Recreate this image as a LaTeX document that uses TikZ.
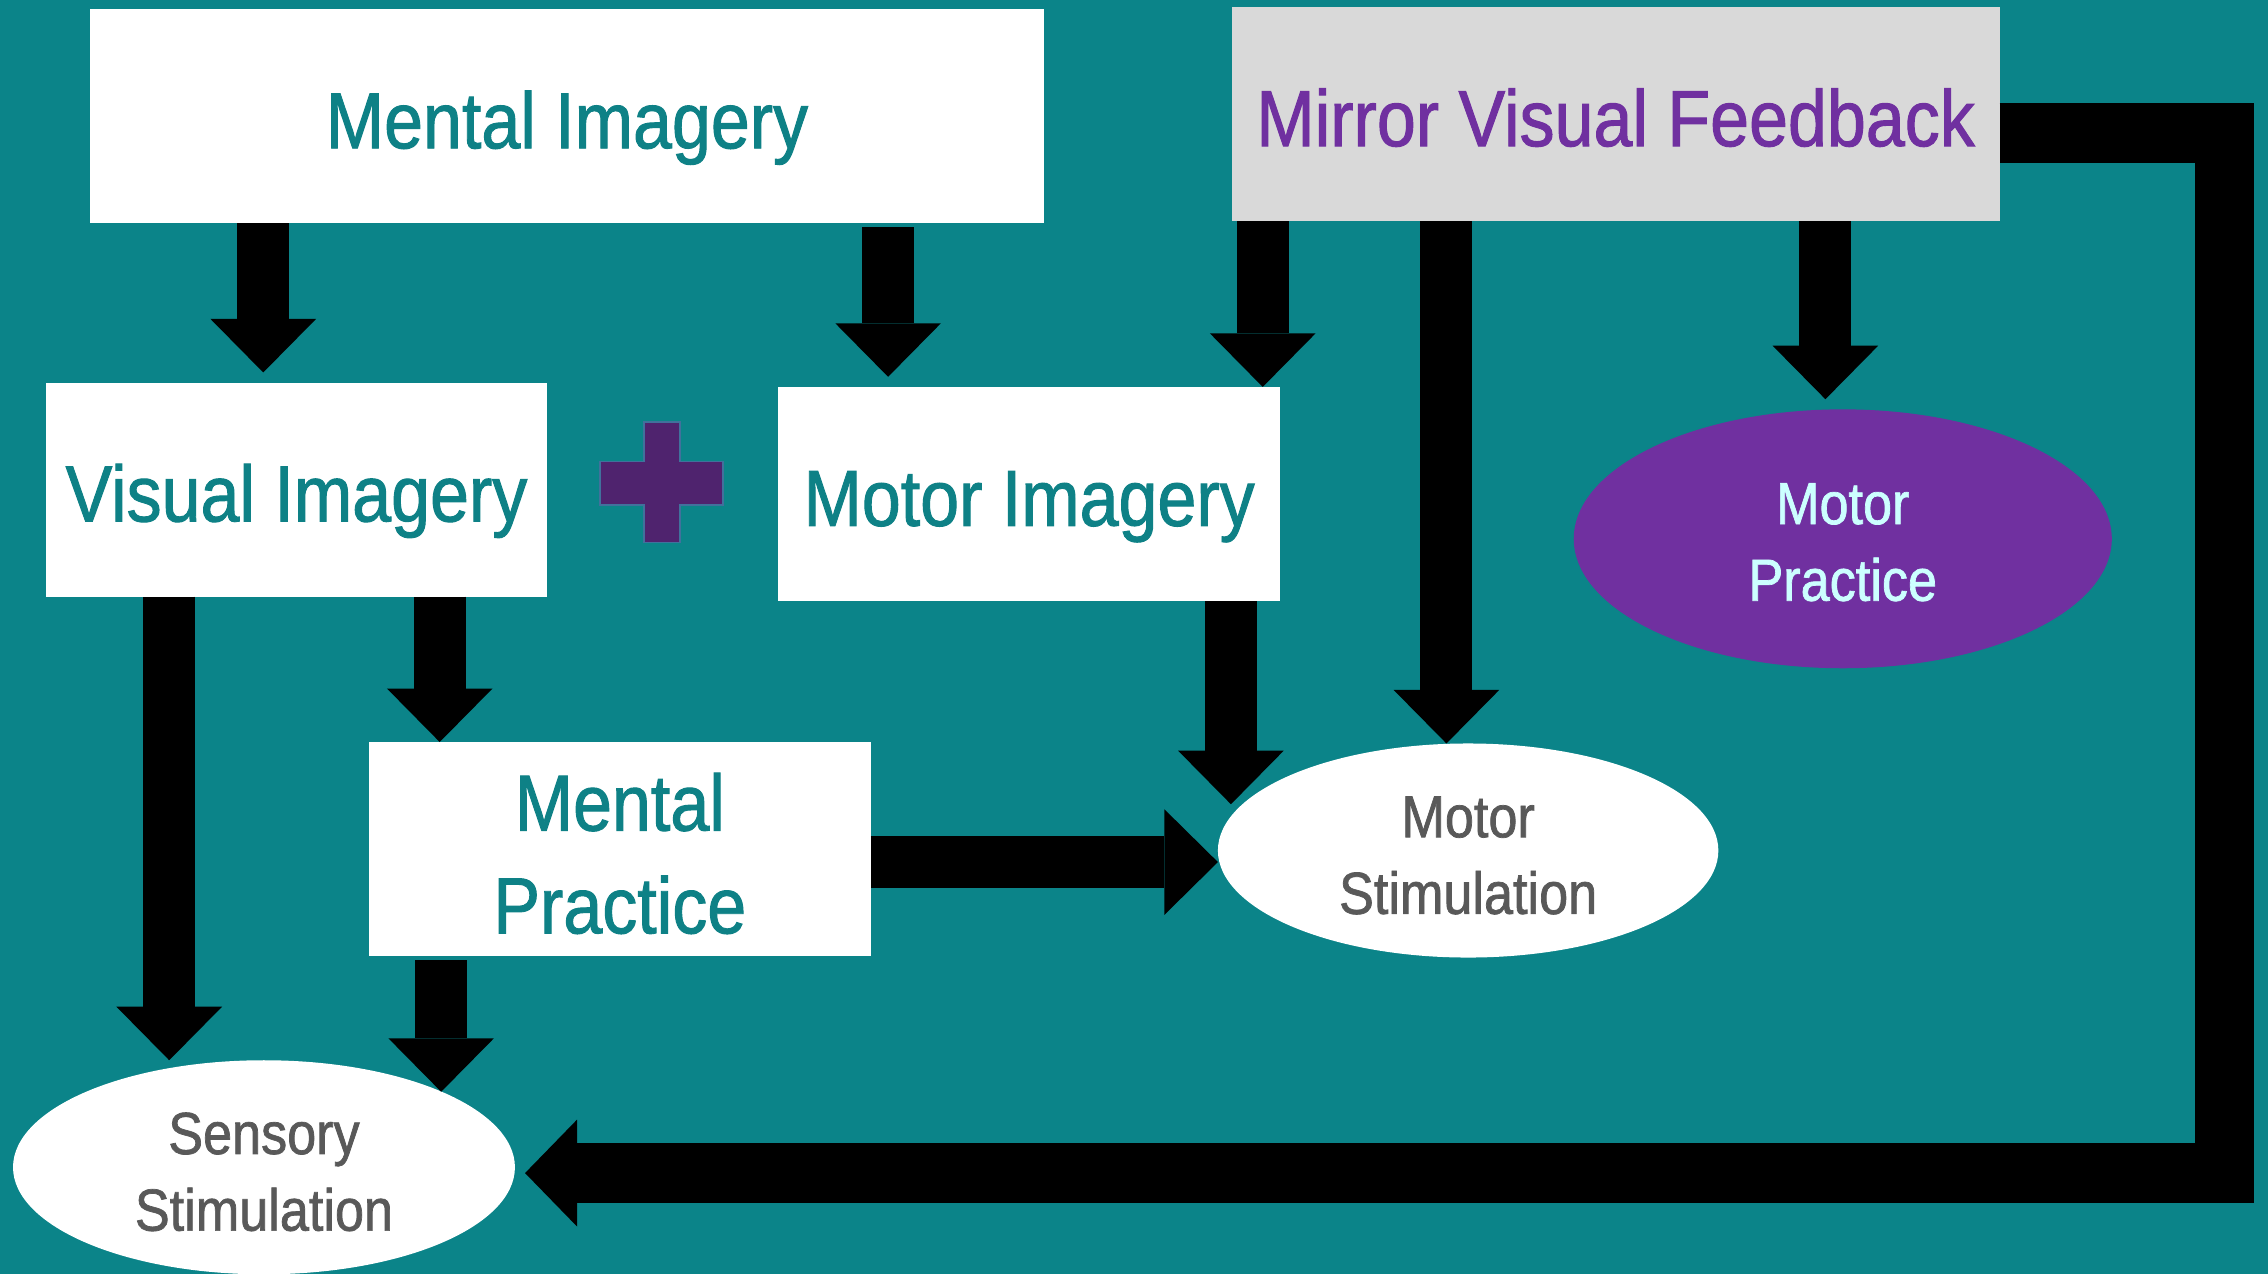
\documentclass[tikz,border=0pt]{standalone}
\usepackage{fontspec}
\setmainfont{Liberation Sans}[FakeStretch=0.88,FakeBold=1.2]
\usetikzlibrary{arrows.meta,shapes.geometric}

\definecolor{bgteal}{HTML}{0B8489}
\definecolor{tealtext}{HTML}{0E8186}
\definecolor{mirrorgray}{HTML}{D9D9D9}
\definecolor{mvfpurple}{HTML}{7030A0}
\definecolor{plusfill}{HTML}{4F236E}
\definecolor{plusedge}{HTML}{41719C}
\definecolor{palecyan}{HTML}{CCFFFF}
\definecolor{stimgray}{HTML}{595959}

\begin{document}
\begin{tikzpicture}[x=1pt,y=-1pt,
  boxbase/.style={rectangle, fill=white, inner sep=0pt, outer sep=0pt,
    minimum width=347pt, minimum height=148pt, text=tealtext,
    font=\fontsize{55}{71}\selectfont},
  box1/.style={boxbase, text height=44pt, text depth=0pt},
  oval/.style={ellipse, inner sep=0pt, outer sep=0pt, align=center,
    font=\fontsize{41}{53}\selectfont},
  blk/.style={draw=black, line width=36pt, line join=miter,
    -{Triangle[width=73pt,length=37pt,line width=0pt]}},
]
% background
\fill[bgteal] (0,0) rectangle (1568,881);
\useasboundingbox (0,0) rectangle (1568,881);

% boxes
\node[box1, minimum width=660pt] (mi) at (392,80.5) {Mental Imagery};
\node[box1, minimum width=531pt, fill=mirrorgray, text=mvfpurple] (mvf) at (1117,79) {Mirror Visual Feedback};
\node[box1] (vi) at (205,338.5) {Visual Imagery};
\node[box1] (moi) at (711.5,341.5) {Motor Imagery};
\node[boxbase, align=center] (mp) at (428.5,587) {\rule{0pt}{46pt}Mental\\Practice};

% ovals
\node[oval, fill=mvfpurple, text=palecyan, minimum width=372pt, minimum height=179pt] (mpr) at (1274,372.5) {\rule{0pt}{33pt}Motor\\Practice};
\node[oval, fill=white, text=stimgray, minimum width=346pt, minimum height=148pt] (ms) at (1015,588) {\rule{0pt}{35pt}Motor\\Stimulation};
\node[oval, fill=white, text=stimgray, minimum width=347pt, minimum height=148pt] (sens) at (182.5,807) {\rule{0pt}{35pt}Sensory\\Stimulation};

% plus sign between the two imagery boxes
\filldraw[fill=plusfill, draw=plusedge, line width=1.2pt]
  (445,292) -- (470,292) -- (470,319) -- (500,319) -- (500,349) -- (470,349)
  -- (470,375) -- (445,375) -- (445,349) -- (415,349) -- (415,319) -- (445,319) -- cycle;

% arrow columns and rows
\coordinate (cA) at (182,0);
\coordinate (cB) at (614,0);
\coordinate (cC) at (117,0);
\coordinate (cD) at (304,0);
\coordinate (cE) at (305,0);
\coordinate (cF) at (851,0);
\coordinate (cG) at (873,0);
\coordinate (cH) at (1000,0);
\coordinate (cI) at (1262,0);
\coordinate (cR) at (1538,0);
\coordinate (rA) at (0,596);
\coordinate (rB) at (0,92);
\coordinate (rC) at (0,811);

% connectors
\draw[blk, shorten >=7pt] (mi.south -| cA) -- (vi.north -| cA);
\draw[blk, shorten <=2.5pt, shorten >=7pt] (mi.south -| cB) -- (moi.north -| cB);
\draw[blk] (vi.south -| cC) -- (sens.north -| cC);
\draw[blk] (vi.south -| cD) -- (mp.north -| cD);
\draw[blk, shorten <=3pt] (mp.south -| cE) -- (sens.23 -| cE);
\draw[blk] (mp.east |- rA) -- (ms.west |- rA);
\draw[blk, shorten >=-42pt] (moi.south -| cF) -- (ms.north -| cF);
\draw[blk] (mvf.south -| cG) -- (moi.north -| cG);
\draw[blk] (mvf.south -| cH) -- (ms.north -| cH);
\draw[blk, shorten >=7pt] (mvf.south -| cI) -- (mpr.north -| cI);
\draw[blk, line width=41pt, -{Triangle[width=74pt,length=36pt,line width=0pt]}, shorten >=7pt]
  (mvf.east |- rB) -| (cR |- rC) -- (sens.east |- rC);
\end{tikzpicture}
\end{document}
